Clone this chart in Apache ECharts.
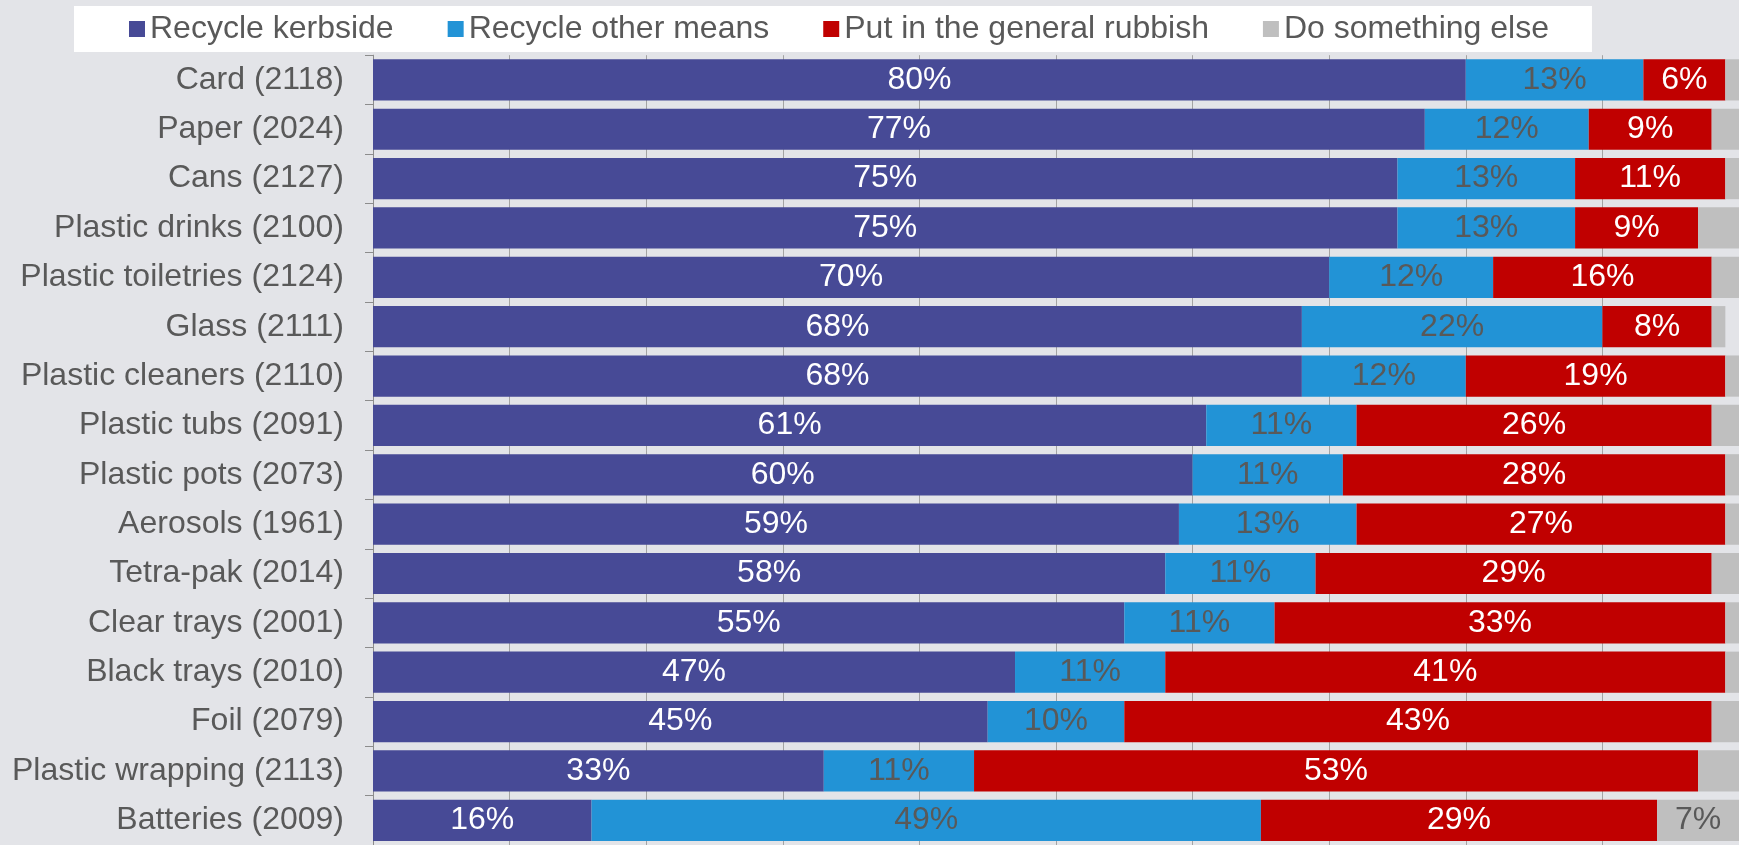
<!DOCTYPE html>
<html>
<head>
<meta charset="utf-8">
<title>Recycling behaviour by material</title>
<script src="https://cdn.jsdelivr.net/npm/echarts@6/dist/echarts.min.js"></script>
<style>
  html, body { margin: 0; padding: 0; background: #e3e4e8; }
  #chart { width: 1739px; height: 845px; }
</style>
</head>
<body>
<div id="chart"></div>
<script>
// Materials, with base size in brackets (top to bottom)
const categories = [
  'Card (2118)', 'Paper (2024)', 'Cans (2127)', 'Plastic drinks (2100)',
  'Plastic toiletries (2124)', 'Glass (2111)', 'Plastic cleaners (2110)',
  'Plastic tubs (2091)', 'Plastic pots (2073)', 'Aerosols (1961)',
  'Tetra-pak (2014)', 'Clear trays (2001)', 'Black trays (2010)',
  'Foil (2079)', 'Plastic wrapping (2113)', 'Batteries (2009)'
];

// Share of respondents (%) per disposal route
const recycleKerbside = [80, 77, 75, 75, 70, 68, 68, 61, 60, 59, 58, 55, 47, 45, 33, 16];
const recycleOtherMeans = [13, 12, 13, 13, 12, 22, 12, 11, 11, 13, 11, 11, 11, 10, 11, 49];
const generalRubbish = [6, 9, 11, 9, 16, 8, 19, 26, 28, 27, 29, 33, 41, 43, 53, 29];
const somethingElse = [1, 2, 1, 3, 2, 1, 1, 2, 1, 1, 2, 1, 1, 2, 3, 7];

const seriesNames = ['Recycle kerbside', 'Recycle other means', 'Put in the general rubbish', 'Do something else'];

const FONT = '"Liberation Sans", Arial, sans-serif';
const TEXT_GREY = '#595959';

function stackSeries(name, data, color, labelColor, minLabel) {
  return {
    name: name,
    type: 'bar',
    stack: 'total',
    data: data,
    barCategoryGap: '16.5%',
    itemStyle: { color: color },
    label: {
      show: true,
      position: 'inside',
      color: labelColor,
      fontFamily: FONT,
      fontSize: 32,
      formatter: p => (p.value >= minLabel ? p.value + '%' : '')
    }
  };
}

const chart = echarts.init(document.getElementById('chart'), null, { renderer: 'canvas' });

chart.setOption({
  animation: false,
  backgroundColor: '#e3e4e8',
  legend: {
    data: seriesNames,
    left: 74,
    top: 6,
    padding: [7, 43, 7, 55],
    backgroundColor: '#ffffff',
    itemGap: 54,
    itemWidth: 16,
    itemHeight: 16,
    icon: 'rect',
    textStyle: { color: TEXT_GREY, fontFamily: FONT, fontSize: 32 }
  },
  grid: {
    left: 373,
    right: -9,
    top: 55.2,
    bottom: -5.4,
    containLabel: false
  },
  xAxis: {
    type: 'value',
    min: 0,
    max: 100,
    interval: 10,
    position: 'bottom',
    axisLabel: { show: false },
    axisLine: { show: false },
    axisTick: { show: false },
    splitLine: { show: true, lineStyle: { color: '#a3a3a3', width: 1 } }
  },
  yAxis: {
    type: 'category',
    data: categories,
    inverse: true,
    axisLine: { show: true, lineStyle: { color: '#8c8c8c', width: 1 } },
    axisTick: { show: true, length: 8, lineStyle: { color: '#8c8c8c' } },
    axisLabel: {
      color: TEXT_GREY,
      fontFamily: FONT,
      fontSize: 32,
      margin: 29
    }
  },
  series: [
    stackSeries(seriesNames[0], recycleKerbside, '#474a96', '#ffffff', 0),
    stackSeries(seriesNames[1], recycleOtherMeans, '#2293d6', TEXT_GREY, 0),
    stackSeries(seriesNames[2], generalRubbish, '#c00000', '#ffffff', 0),
    stackSeries(seriesNames[3], somethingElse, '#bfbfbf', TEXT_GREY, 5)
  ]
});
</script>
</body>
</html>
